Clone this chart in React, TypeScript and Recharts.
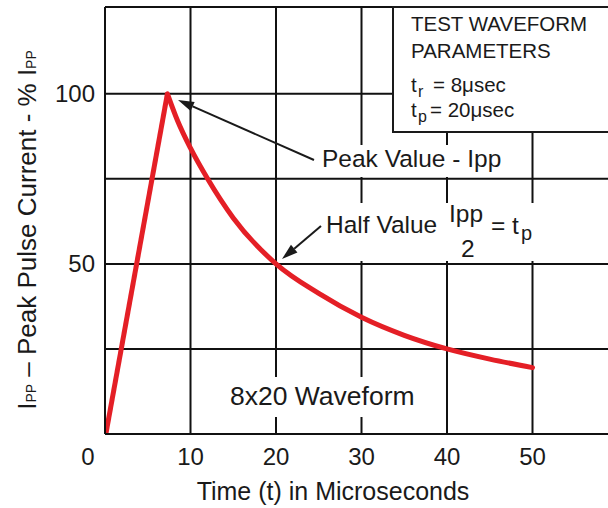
import React from 'react';
import { LineChart, Line, XAxis, YAxis, CartesianGrid, ReferenceLine } from 'recharts';

// rise edge of the pulse
const riseTime = [0.1, 7.3];
const riseValue = [0, 100];

// decay tail
const decayTime = [7.3, 8.5, 10, 12, 15, 20, 25, 30, 35, 40, 45, 50];
const decayValue = [100, 92, 84, 75, 63.5, 50, 41.3, 34.3, 29, 25, 22, 19.5];

const xTicks = [0, 10, 20, 30, 40, 50];
const yTicks = [0, 25, 50, 75, 100];
const yLabelled = [50, 100];

const riseData = riseTime.map((t, i) => ({ t, v: riseValue[i] }));
const decayData = decayTime.map((t, i) => ({ t, v: decayValue[i] }));

const FONT = '"Liberation Sans", Arial, sans-serif';
const INK = '#1a1a1a';
const RED = '#e41f26';

const XTick = (props: any) => {
  const { x, y, payload } = props;
  const shift = payload.value === 0 ? -17 : 0;
  return (
    <text x={x + shift} y={y + 31} textAnchor="middle" fontSize={24} fill={INK} fontFamily={FONT}>
      {payload.value}
    </text>
  );
};

const YTick = (props: any) => {
  const { x, y, payload } = props;
  if (!yLabelled.includes(payload.value)) return <g />;
  return (
    <text x={x - 10} y={y + 8.5} textAnchor="end" fontSize={24} fill={INK} fontFamily={FONT}>
      {payload.value}
    </text>
  );
};

// arrow with a filled head at (x2, y2)
const Arrow = ({ x1, y1, x2, y2 }: { x1: number; y1: number; x2: number; y2: number }) => {
  const dx = x2 - x1;
  const dy = y2 - y1;
  const len = Math.sqrt(dx * dx + dy * dy);
  const ux = dx / len;
  const uy = dy / len;
  const hl = 16;
  const hw = 5;
  const bx = x2 - ux * hl;
  const by = y2 - uy * hl;
  const p1 = `${bx - uy * hw},${by + ux * hw}`;
  const p2 = `${bx + uy * hw},${by - ux * hw}`;
  return (
    <g>
      <line x1={x1} y1={y1} x2={bx} y2={by} stroke={INK} strokeWidth={2} />
      <polygon points={`${x2},${y2} ${p1} ${p2}`} fill={INK} />
    </g>
  );
};

const Overlay = () => (
  <svg
    width={608}
    height={508}
    style={{ position: 'absolute', left: 0, top: 0, pointerEvents: 'none' }}
    fontFamily={FONT}
    fill={INK}
  >
    {/* parameters box */}
    <rect x={393} y={7} width={240} height={125} fill="#fff" stroke={INK} strokeWidth={2} />
    <text x={411} y={31} fontSize={20.5}>TEST WAVEFORM</text>
    <text x={411} y={58} fontSize={20.5}>PARAMETERS</text>
    <text x={411} y={92} fontSize={20.5}>t</text>
    <text x={418} y={97} fontSize={16}>r</text>
    <text x={433} y={92} fontSize={20.5}>= 8μsec</text>
    <text x={411} y={117} fontSize={20.5}>t</text>
    <text x={418} y={122} fontSize={16}>p</text>
    <text x={430} y={117} fontSize={20.5}>= 20μsec</text>

    {/* peak annotation */}
    <rect x={318} y={145} width={194} height={32} fill="#fff" />
    <text x={322} y={167} fontSize={24.5}>Peak Value - Ipp</text>
    <Arrow x1={314} y1={160} x2={178} y2={100} />

    {/* half value annotation */}
    <rect x={322} y={203} width={222} height={58} fill="#fff" />
    <text x={326} y={233} fontSize={24.5}>Half Value</text>
    <text x={449} y={222} fontSize={24.5}>Ipp</text>
    <text x={461} y={257} fontSize={24.5}>2</text>
    <text x={491} y={234} fontSize={24.5}>= t</text>
    <text x={521} y={240} fontSize={20}>p</text>
    <Arrow x1={321} y1={226} x2={282} y2={259} />

    {/* waveform name */}
    <rect x={226} y={377} width={205} height={40} fill="#fff" />
    <text x={230} y={405} fontSize={26.5}>8x20 Waveform</text>

    {/* axis titles */}
    <text x={333} y={500} fontSize={25} textAnchor="middle">Time (t) in Microseconds</text>
    <text transform="translate(36,230) rotate(-90)" fontSize={26} textAnchor="middle">
      I<tspan fontSize={14}>PP</tspan> – Peak Pulse Current - % I<tspan fontSize={14}>PP</tspan>
    </text>
  </svg>
);

export default function App() {
  return (
    <div
      style={{
        position: 'absolute',
        left: 0,
        top: 0,
        width: 608,
        height: 508,
        overflow: 'hidden',
        background: '#fff',
      }}
    >
      <LineChart width={620} height={508} margin={{ top: 7, right: 2, bottom: 0, left: 5 }}>
        <CartesianGrid stroke="#111" strokeWidth={2} strokeOpacity={1} />
        <XAxis
          type="number"
          dataKey="t"
          domain={[0, 60]}
          ticks={xTicks}
          interval={0}
          height={74}
          tickSize={0}
          tickMargin={0}
          tickLine={false}
          axisLine={{ stroke: '#111', strokeWidth: 2 }}
          tick={(p: any) => <XTick {...p} />}
          allowDataOverflow
        />
        <YAxis
          type="number"
          dataKey="v"
          domain={[0, 125.5]}
          ticks={yTicks}
          interval={0}
          width={100}
          tickSize={0}
          tickMargin={0}
          tickLine={false}
          axisLine={{ stroke: '#111', strokeWidth: 2 }}
          tick={(p: any) => <YTick {...p} />}
          allowDataOverflow
        />
        <ReferenceLine y={125.5} stroke="#111" strokeWidth={2} />
        <Line
          data={riseData}
          dataKey="v"
          type="linear"
          stroke={RED}
          strokeWidth={5}
          dot={false}
          isAnimationActive={false}
        />
        <Line
          data={decayData}
          dataKey="v"
          type="monotone"
          stroke={RED}
          strokeWidth={5}
          strokeLinecap="round"
          dot={false}
          isAnimationActive={false}
        />
      </LineChart>
      <Overlay />
    </div>
  );
}
